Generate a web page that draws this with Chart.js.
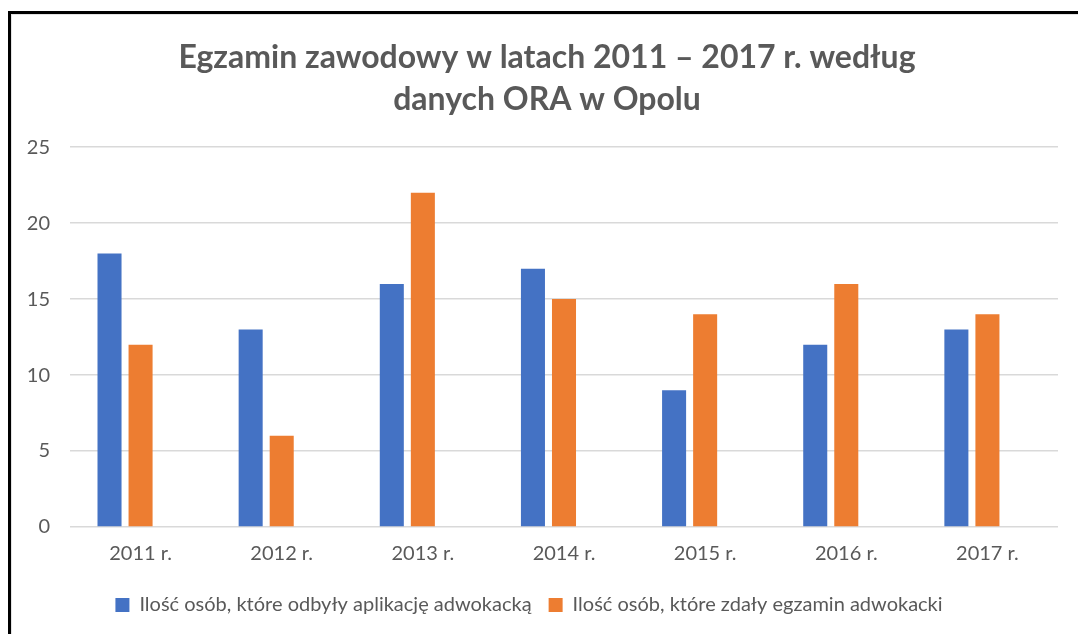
<!DOCTYPE html>
<html>
<head>
<meta charset="utf-8">
<script src="https://cdn.jsdelivr.net/npm/chart.js@4"></script>
<style>
  html, body { margin: 0; padding: 0; background: #fff; }
  #frame { position: absolute; left: 8px; top: 11px; width: 1100px; height: 650px;
           border-left: 3px solid #000; border-top: 3px solid #000; }
  #inner { position: absolute; left: 11px; top: 14px; width: 1100px; height: 650px;
           border-left: 1px solid #e3e3e3; border-top: 1px solid #e3e3e3; }
  #wrap { position: absolute; left: 0; top: 0; width: 1078px; height: 634px; }
</style>
</head>
<body>
<div id="frame"></div>
<div id="inner"></div>
<div id="wrap"><canvas id="examCanvas"></canvas></div>
<script>
// data
const years = ['2011 r.', '2012 r.', '2013 r.', '2014 r.', '2015 r.', '2016 r.', '2017 r.'];
const applicants = [18, 13, 16, 17, 9, 12, 13];
const passed = [12, 6, 22, 15, 14, 16, 14];
// excel chart had a third empty series, it keeps the bars shifted left
const emptySeries = [null, null, null, null, null, null, null];
const yTicks = [0, 5, 10, 15, 20, 25];

const TEXT = '#595959';

// title in the original sits a bit right of the legend, nudge it
const shiftTitle = {
    id: 'shiftTitle',
    afterLayout(chart) {
        if (chart.titleBlock) chart.titleBlock.left += 36;
    }
};

document.addEventListener('DOMContentLoaded', function() {
    const ctx = document.getElementById('examCanvas').getContext('2d');
    new Chart(ctx, {
        type: 'bar',
        data: {
            labels: years,
            datasets: [{
                label: 'Ilość osób, które odbyły aplikację adwokacką',
                data: applicants,
                backgroundColor: '#4472C4'
            }, {
                label: 'Ilość osób, które zdały egzamin adwokacki',
                data: passed,
                backgroundColor: '#ED7D31'
            }, {
                label: '',
                data: emptySeries,
                backgroundColor: '#A5A5A5'
            }]
        },
        options: {
            responsive: true,
            maintainAspectRatio: false,
            animation: false,
            categoryPercentage: 0.66,
            barPercentage: 0.774,
            layout: { padding: { left: 0, right: 20, top: 0, bottom: 9 } },
            plugins: {
                title: {
                    display: true,
                    text: ['Egzamin zawodowy w latach 2011 – 2017 r. według', 'danych ORA w Opolu'],
                    color: TEXT,
                    font: { family: 'Lato', size: 32, weight: 'bold', lineHeight: 1.3 },
                    padding: { top: 37, bottom: 27 }
                },
                legend: {
                    position: 'bottom',
                    labels: {
                        color: TEXT,
                        font: { family: 'Lato', size: 20 },
                        boxWidth: 14,
                        boxHeight: 14,
                        padding: 17,
                        filter: item => item.text !== ''
                    }
                },
                tooltip: { enabled: false }
            },
            scales: {
                x: {
                    grid: { display: false },
                    border: { display: false },
                    afterFit: scale => { scale.height += 5; },
                    ticks: { color: TEXT, font: { family: 'Lato', size: 20 }, padding: 7 }
                },
                y: {
                    min: 0,
                    max: 25,
                    afterBuildTicks: scale => { scale.ticks = yTicks.map(v => ({ value: v })); },
                    afterFit: scale => { scale.width = 70; },
                    grid: { color: '#d9d9d9', lineWidth: 1.5, drawTicks: false },
                    border: { display: false },
                    ticks: { color: TEXT, font: { family: 'Lato', size: 20 }, padding: 20 }
                }
            }
        },
        plugins: [shiftTitle]
    });
});
</script>
</body>
</html>
